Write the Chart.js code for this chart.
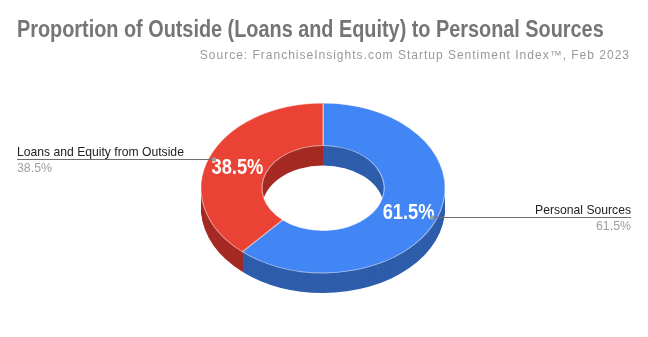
<!DOCTYPE html>
<html>
<head>
<meta charset="utf-8">
<script src="https://cdn.jsdelivr.net/npm/chart.js@4.4.1/dist/chart.umd.min.js"></script>
<style>
  html, body { margin: 0; padding: 0; background: #ffffff; }
  #wrap { width: 648px; height: 337px; position: relative; }
</style>
</head>
<body>
<div id="wrap"><canvas id="c" width="648" height="337"></canvas></div>
<script>
const titleText = 'Proportion of Outside (Loans and Equity) to Personal Sources';
const subtitleText = 'Source: FranchiseInsights.com Startup Sentiment Index\u2122, Feb 2023';
const categories = ['Personal Sources', 'Loans and Equity from Outside'];
const values = [61.5, 38.5];
const sliceLabels = ['61.5%', '38.5%'];
const topColors = ['#4285F4', '#EA4335'];
const sideColors = ['#2E5DAB', '#A52A23'];

const FONT = '"Liberation Sans", Arial, sans-serif';
const CX = 323, CY = 188, RX = 122, RY = 85, DEPTH = 20;

function applyT(ctx, el, offset) {
  const R = el.outerRadius;
  ctx.translate(CX, CY + offset);
  ctx.scale(RX / R, RY / R);
  ctx.translate(-el.x, -el.y);
}
function ringPath(ctx, el) {
  ctx.beginPath();
  ctx.arc(el.x, el.y, el.outerRadius, el.startAngle, el.endAngle);
  ctx.arc(el.x, el.y, el.innerRadius, el.endAngle, el.startAngle, true);
  ctx.closePath();
}
function mapPoint(angle, frac) {
  return { x: CX + Math.cos(angle) * RX * frac, y: CY + Math.sin(angle) * RY * frac };
}
function drawText(ctx, text, x, y, align, font, color, factor) {
  ctx.save();
  ctx.font = font;
  ctx.fillStyle = color;
  ctx.textAlign = align;
  ctx.textBaseline = 'alphabetic';
  ctx.translate(x, y);
  ctx.scale(factor, 1);
  ctx.fillText(text, 0, 0);
  ctx.restore();
}

const pie3d = {
  id: 'pie3d',
  beforeDatasetsDraw(chart) {
    const ctx = chart.ctx;
    const els = chart.getDatasetMeta(0).data;
    for (let d = DEPTH; d >= 1; d--) {
      ctx.save();
      applyT(ctx, els[0], d);
      els.forEach((el, i) => {
        ringPath(ctx, el);
        ctx.fillStyle = sideColors[i];
        ctx.fill();
      });
      ctx.restore();
    }
    ctx.save();
    applyT(ctx, els[0], 0);
  },
  afterDatasetsDraw(chart) {
    chart.ctx.restore();
  },
  afterDraw(chart) {
    const ctx = chart.ctx;
    const els = chart.getDatasetMeta(0).data;
    ctx.save();
    drawText(ctx, titleText, 17, 37, 'left', 'bold 23px ' + FONT, '#757575', 0.863);
    ctx.save();
    ctx.letterSpacing = '1px';
    drawText(ctx, subtitleText, 630, 59, 'right', '12px ' + FONT, '#999999', 1);
    ctx.restore();

    els.forEach((el, i) => {
      const mid = (el.startAngle + el.endAngle) / 2;
      const tp = mapPoint(mid, 0.75);
      drawText(ctx, sliceLabels[i], tp.x, tp.y + 8.5, 'center', 'bold 22px ' + FONT, '#ffffff', 0.83);
      const dp = mapPoint(mid, 0.955);
      const right = Math.cos(mid) > 0;
      const endX = right ? 631 : 17;
      const ly = Math.round(dp.y) + 0.5;
      ctx.strokeStyle = '#6f6f6f';
      ctx.lineWidth = 1;
      ctx.beginPath();
      ctx.moveTo(dp.x, ly);
      ctx.lineTo(endX, ly);
      ctx.stroke();
      ctx.fillStyle = '#9e9e9e';
      ctx.beginPath();
      ctx.arc(dp.x, ly, 2.2, 0, Math.PI * 2);
      ctx.fill();
      const align = right ? 'right' : 'left';
      drawText(ctx, categories[i], endX, ly - 3.5, align, '13px ' + FONT, '#222222', 0.935);
      drawText(ctx, sliceLabels[i], endX, ly + 12.5, align, '13px ' + FONT, '#9e9e9e', 0.95);
    });
    ctx.restore();
  }
};

new Chart(document.getElementById('c'), {
  type: 'doughnut',
  data: {
    labels: categories,
    datasets: [{
      data: values,
      backgroundColor: topColors,
      borderColor: 'rgba(255,255,255,0.55)',
      borderWidth: 1,
      clip: false
    }]
  },
  options: {
    responsive: false,
    animation: false,
    cutout: '50%',
    rotation: 0,
    layout: { padding: 60 },
    plugins: { legend: { display: false }, tooltip: { enabled: false }, title: { display: false } },
    events: []
  },
  plugins: [pie3d]
});
</script>
</body>
</html>
